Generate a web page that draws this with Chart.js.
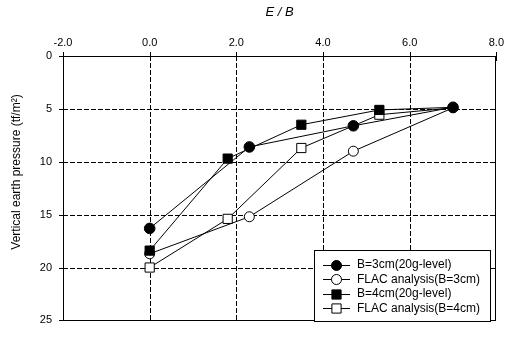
<!DOCTYPE html>
<html>
<head>
<meta charset="utf-8">
<script src="https://cdn.jsdelivr.net/npm/chart.js@4"></script>
<style>
  body { margin: 0; background: #fff; }
  #wrap { width: 510px; height: 338px; }
</style>
</head>
<body>
<div id="wrap"><canvas id="pressureChart"></canvas></div>
<script>
// E/B positions and measured / computed vertical pressures (tf/m2)
const ebB3 = [0, 2.3, 4.7, 7.0];
const testB3 = [16.3, 8.6, 6.6, 4.85];
const flacB3 = [18.7, 15.2, 9.0, 4.9];
const ebB4 = [0, 1.8, 3.5, 5.3, 7.0];
const testB4 = [18.4, 9.7, 6.5, 5.1, 4.85];
const flacB4 = [20.0, 15.4, 8.7, 5.55, 4.9];

const seriesLabels = ["B=3cm(20g-level)", "FLAC analysis(B=3cm)", "B=4cm(20g-level)", "FLAC analysis(B=4cm)"];
const xTicks = [-2, 0, 2, 4, 6, 8];
const yTicks = [0, 5, 10, 15, 20, 25];

const FONT = "Arial, 'Liberation Sans', sans-serif";

function toPoints(xs, ys) {
    return xs.map((x, i) => ({ x: x, y: ys[i] }));
}

function makeSet(label, xs, ys, style, filled, radius, order) {
    return {
        label: label,
        data: toPoints(xs, ys),
        borderColor: "#000",
        borderWidth: 1,
        pointStyle: style,
        pointRadius: radius,
        pointHoverRadius: radius,
        pointBackgroundColor: filled ? "#000" : "#fff",
        pointBorderColor: "#000",
        pointBorderWidth: 1,
        tension: 0,
        fill: false,
        order: order
    };
}

// square markers sit under the common end point, only their lines show there
function squareRadius(xs) {
    return xs.map((x, i) => i === xs.length - 1 ? 0 : 6.5);
}

// dashed grid inside the plot
const gridPlugin = {
    id: "dashGrid",
    beforeDatasetsDraw(chart) {
        const ctx = chart.ctx;
        const a = chart.chartArea;
        const xs = chart.scales.x;
        const ys = chart.scales.y;
        ctx.save();
        ctx.strokeStyle = "#000";
        ctx.lineWidth = 1;
        ctx.setLineDash([5, 2]);
        ctx.beginPath();
        xTicks.slice(1, -1).forEach(v => {
            const px = Math.round(xs.getPixelForValue(v)) + 0.5;
            ctx.moveTo(px, a.top);
            ctx.lineTo(px, a.bottom);
        });
        yTicks.slice(1, -1).forEach(v => {
            const py = Math.round(ys.getPixelForValue(v)) + 0.5;
            ctx.moveTo(a.left, py);
            ctx.lineTo(a.right, py);
        });
        ctx.stroke();
        ctx.restore();
    }
};

// frame, crossing tick marks, y axis title
const framePlugin = {
    id: "frame",
    afterDraw(chart) {
        const ctx = chart.ctx;
        const a = chart.chartArea;
        const xs = chart.scales.x;
        const ys = chart.scales.y;
        ctx.save();
        ctx.strokeStyle = "#000";
        ctx.lineWidth = 1;
        ctx.strokeRect(Math.round(a.left) + 0.5, Math.round(a.top) + 0.5,
            Math.round(a.right - a.left) - 1, Math.round(a.bottom - a.top));
        ctx.beginPath();
        xTicks.forEach(v => {
            const px = Math.round(xs.getPixelForValue(v)) + 0.5;
            ctx.moveTo(px, a.top - 4);
            ctx.lineTo(px, a.top + 5);
        });
        yTicks.forEach(v => {
            const py = Math.round(ys.getPixelForValue(v)) + 0.5;
            ctx.moveTo(a.left - 4, py);
            ctx.lineTo(a.left + 5, py);
        });
        ctx.stroke();

        ctx.translate(17, 172);
        ctx.rotate(-Math.PI / 2);
        ctx.fillStyle = "#000";
        ctx.font = "12px " + FONT;
        ctx.textAlign = "center";
        ctx.textBaseline = "middle";
        ctx.fillText("Vertical earth pressure (tf/m²)", 0, 0);
        ctx.restore();
    }
};

// boxed legend with a line through each marker
const legendPlugin = {
    id: "boxLegend",
    afterDraw(chart) {
        const ctx = chart.ctx;
        const box = { left: 314, top: 250, right: 490, bottom: 321 };
        ctx.save();
        ctx.fillStyle = "#fff";
        ctx.fillRect(box.left, box.top, box.right - box.left, box.bottom - box.top);
        ctx.strokeStyle = "#000";
        ctx.lineWidth = 1;
        ctx.strokeRect(box.left + 0.5, box.top + 0.5, box.right - box.left, box.bottom - box.top);
        chart.data.datasets.forEach((ds, i) => {
            const y = 265 + i * 14.4;
            ctx.strokeStyle = "#000";
            ctx.beginPath();
            ctx.moveTo(323, Math.round(y) + 0.5);
            ctx.lineTo(350, Math.round(y) + 0.5);
            ctx.stroke();
            ctx.fillStyle = ds.pointBackgroundColor;
            ctx.strokeStyle = ds.pointBorderColor;
            ctx.lineWidth = 1;
            Chart.helpers.drawPoint(ctx, {
                pointStyle: ds.pointStyle,
                radius: ds.pointStyle === "rect" ? 6.5 : 5,
                rotation: 0,
                borderWidth: 1
            }, 336.5, Math.round(y) + 0.5);
            ctx.fillStyle = "#000";
            ctx.font = "12px " + FONT;
            ctx.textBaseline = "middle";
            ctx.textAlign = "left";
            ctx.fillText(ds.label, 357, y);
        });
        ctx.restore();
    }
};

new Chart(document.getElementById("pressureChart"), {
    type: "line",
    data: {
        datasets: [
            makeSet(seriesLabels[0], ebB3, testB3, "circle", true, 5.3, 0),
            makeSet(seriesLabels[1], ebB3, flacB3, "circle", false, 5, 2),
            makeSet(seriesLabels[2], ebB4, testB4, "rect", true, squareRadius(ebB4), 1),
            makeSet(seriesLabels[3], ebB4, flacB4, "rect", false, squareRadius(ebB4), 3)
        ]
    },
    options: {
        responsive: true,
        maintainAspectRatio: false,
        animation: false,
        layout: { padding: { left: 0, right: 10, top: 0, bottom: 7 } },
        plugins: {
            legend: { display: false },
            tooltip: { enabled: false }
        },
        scales: {
            x: {
                type: "linear",
                position: "top",
                min: -2,
                max: 8,
                afterFit: s => { s.height = 56; },
                afterBuildTicks: s => { s.ticks = xTicks.map(v => ({ value: v })); },
                ticks: {
                    padding: 6,
                    color: "#000",
                    font: { family: FONT, size: 11 },
                    maxRotation: 0,
                    callback: v => v.toFixed(1)
                },
                grid: { display: false, drawTicks: false },
                border: { display: false },
                title: {
                    display: true,
                    text: "E / B",
                    color: "#000",
                    font: { family: FONT, size: 13, style: "italic" },
                    padding: { top: 5, bottom: 0 }
                }
            },
            y: {
                type: "linear",
                reverse: true,
                min: 0,
                max: 25,
                afterFit: s => { s.width = 63; },
                afterBuildTicks: s => { s.ticks = yTicks.map(v => ({ value: v })); },
                ticks: {
                    padding: 11,
                    color: "#000",
                    font: { family: FONT, size: 11 }
                },
                grid: { display: false, drawTicks: false },
                border: { display: false }
            }
        }
    },
    plugins: [gridPlugin, framePlugin, legendPlugin]
});
</script>
</body>
</html>
